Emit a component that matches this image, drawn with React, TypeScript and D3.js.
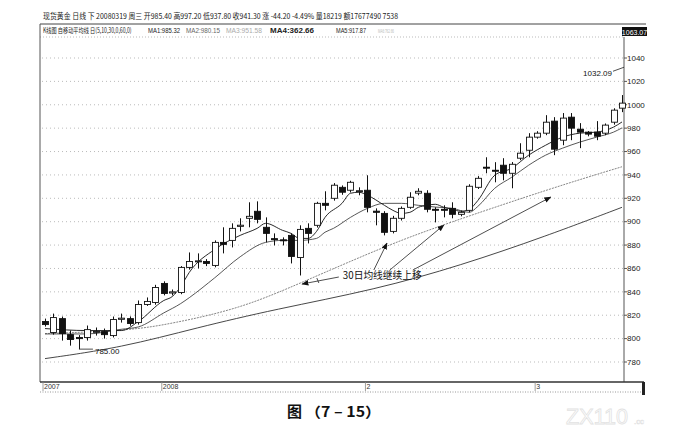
import * as d3 from "d3";
import React from "react";

const W = 685;
const H = 437;

// daily candles, 2007-12 .. 2008-03
const opens = [
  814.6, 805.2, 817.1, 803.4, 801.0, 800.9, 805.5, 806.0, 802.6, 816.5,
  817.1, 813.7, 829.2, 830.9, 847.2, 839.0, 839.4, 860.9, 866.0, 866.0,
  862.6, 882.3, 884.0, 896.0, 902.9, 908.9, 895.2, 885.5, 884.5, 888.3,
  869.4, 894.3, 896.9, 915.7, 920.0, 929.4, 926.9, 926.0, 926.9, 909.0,
  907.1, 891.7, 902.9, 912.3, 924.4, 924.3, 910.6, 910.6, 911.4, 906.3,
  909.7, 929.4, 946.6, 944.0, 948.3, 941.4, 954.3, 961.1, 972.3, 975.7,
  986.0, 969.7, 989.4, 979.1, 976.6, 976.6, 975.7, 985.1, 997.1,
];
const highs = [
  817.1, 821.4, 818.9, 806.9, 803.0, 811.2, 809.5, 808.6, 818.9, 821.4,
  819.0, 832.6, 835.2, 846.0, 849.0, 842.0, 862.0, 873.7, 872.9, 868.0,
  884.0, 895.2, 898.6, 902.9, 916.6, 917.4, 903.7, 890.0, 886.6, 890.0,
  896.9, 898.6, 917.0, 926.0, 933.0, 931.0, 935.0, 929.4, 939.7, 911.4,
  909.0, 905.0, 913.0, 925.2, 928.6, 926.9, 912.3, 914.0, 916.6, 909.5,
  932.0, 939.0, 955.1, 950.9, 954.3, 951.0, 967.1, 975.7, 977.4, 991.1,
  989.4, 992.9, 992.9, 984.3, 977.5, 986.0, 984.0, 997.0, 1008.3,
];
const lows = [
  810.3, 803.4, 798.3, 794.0, 791.0, 798.3, 802.6, 800.0, 801.0, 813.7,
  811.0, 812.0, 828.0, 829.0, 837.0, 837.0, 838.0, 859.0, 860.0, 862.0,
  861.0, 872.9, 878.0, 891.7, 895.2, 898.6, 882.3, 879.7, 879.7, 864.3,
  854.0, 881.4, 895.0, 909.7, 918.0, 923.0, 925.0, 922.6, 908.0, 896.9,
  888.3, 890.0, 901.0, 911.0, 922.6, 908.0, 899.4, 903.7, 902.9, 904.6,
  908.0, 928.0, 941.4, 933.7, 935.4, 928.6, 952.6, 955.1, 971.0, 974.0,
  956.9, 965.4, 969.7, 962.9, 973.0, 969.7, 974.0, 983.0, 993.7,
];
const closes = [
  812.0, 818.0, 804.3, 799.2, 800.0, 807.7, 806.2, 803.4, 816.3, 817.5,
  812.9, 829.2, 831.8, 843.7, 838.6, 840.0, 860.9, 866.0, 866.5, 864.3,
  882.3, 880.6, 894.3, 897.0, 904.6, 902.0, 890.0, 885.0, 884.0, 870.3,
  893.4, 890.0, 915.7, 914.0, 931.2, 925.2, 933.7, 926.5, 912.3, 908.0,
  890.9, 902.9, 911.4, 920.9, 926.0, 910.6, 910.0, 910.0, 906.3, 908.0,
  930.3, 937.1, 946.0, 943.5, 941.4, 949.1, 958.6, 972.3, 975.7, 985.1,
  962.0, 988.6, 980.0, 976.6, 974.9, 973.1, 982.6, 995.4, 1001.4,
];

// moving averages as [candle index, value]
const ma5: [number, number][] = [
  [0, 808.6], [5, 806.9], [9, 806.9], [11, 814.6], [14, 832.6], [15, 836.0],
  [16, 844.6], [17, 856.6], [20, 876.3], [23, 888.3], [25, 894.3], [26, 898.6],
  [28, 892.6], [29, 890.0], [30, 885.7], [31, 885.7], [32, 891.7], [33, 903.7],
  [35, 915.7], [36, 924.3], [37, 925.2], [38, 922.6], [40, 914.0], [41, 909.7],
  [42, 907.1], [43, 908.0], [44, 912.3], [45, 914.0], [46, 914.9], [47, 912.3],
  [48, 910.6], [49, 908.9], [50, 910.6], [51, 918.0], [53, 939.7], [55, 945.7],
  [57, 956.9], [59, 965.4], [61, 972.3], [63, 975.7], [65, 976.6], [67, 980.9],
  [68, 985.3],
];
const ma10: [number, number][] = [
  [0, 804.0], [5, 804.0], [9, 808.0], [11, 810.0], [14, 822.0], [16, 830.0],
  [17, 835.0], [20, 852.0], [23, 870.0], [26, 882.3], [28, 884.0], [30, 884.0],
  [32, 885.7], [33, 891.0], [34, 894.3], [36, 903.7], [38, 911.4], [40, 915.7],
  [42, 915.7], [44, 914.0], [46, 912.5], [48, 911.4], [50, 908.0], [51, 913.0],
  [53, 928.6], [55, 938.0], [57, 948.3], [59, 956.9], [61, 962.9], [63, 968.0],
  [65, 972.3], [67, 976.6], [68, 980.2],
];
const ma30: [number, number][] = [
  [0, 804.3], [10, 806.9], [15, 812.9], [23, 825.7], [30, 847.1], [40, 878.9],
  [47, 897.7], [60, 929.4], [68, 947.0],
];
const ma60: [number, number][] = [
  [0, 782.9], [9, 792.3], [18, 809.5], [27, 824.9], [39, 842.0], [49, 862.6],
  [59, 887.5], [68, 912.3],
];

const yTicks = [780, 800, 820, 840, 860, 880, 900, 920, 940, 960, 980, 1000, 1020, 1040];
const xTicks: [number, string][] = [[0, "2007"], [14, "2008"], [38, "2"], [58, "3"]];

const titleLine =
  "现货黄金 日线 下 20080319 周三 开985.40 高997.20 低937.80 收941.30 涨 -44.20 -4.49% 量18219 额17677490 7538";
const maPrefix = "K线图 自移动平均线 日(5,10,30,0,60,0)";
const maLabels = [
  { t: "MA1:985.32", c: "#222" },
  { t: "MA2:980.15", c: "#666" },
  { t: "MA3:951.58", c: "#aaa" },
  { t: "MA4:362.66", c: "#222" },
  { t: "MA5:917.87", c: "#222" },
  { t: "MA6:762.66", c: "#bbb" },
];

const highMark = 1032.09;
const lowMark = 785.0;
const lowIdx = 4;
const noteText = "30日均线继续上移";
const noteAt: [number, number] = [35.1, 854.4];
const arrowTargets: [number, number][] = [
  [30.3, 846.7],
  [40.3, 881.7],
  [47.0, 897.1],
  [59.6, 921.0],
];

const FONT = "'Liberation Sans', 'Noto Sans CJK SC', sans-serif";
const CJK = "'Noto Sans CJK SC', sans-serif";

export default function App() {
  const x = d3.scaleLinear().domain([0, 68]).range([45, 622]);
  const y = d3.scaleLinear().domain([780, 1040]).range([362, 58]);
  const bodyW = 6;

  const line = d3
    .line<[number, number]>()
    .x((d) => x(d[0]))
    .y((d) => y(d[1]))
    .curve(d3.curveMonotoneX);
  const smooth = d3
    .line<[number, number]>()
    .x((d) => x(d[0]))
    .y((d) => y(d[1]))
    .curve(d3.curveBasis);

  const plotL = 40;
  const axisX = 624;
  const plotTop = 37;
  const plotBottom = 382;

  const [nx, ny] = [x(noteAt[0]), y(noteAt[1])];
  const starts: [number, number][] = [
    [nx - 4, ny + 2],
    [nx + 31, ny - 5],
    [nx + 47, ny - 5],
    [nx + 70, ny - 5],
  ];

  const maX = [148, 186, 226, 270, 336, 378];
  const maLen = [32, 34, 36, 44, 30, 16];

  return (
    <svg
      width={W}
      height={H}
      style={{ position: "absolute", left: 0, top: 0, background: "#fff" }}
    >
      <defs>
        <marker
          id="ah"
          viewBox="0 0 10 10"
          refX="9"
          refY="5"
          markerWidth="7"
          markerHeight="7"
          orient="auto"
          markerUnits="userSpaceOnUse"
        >
          <path d="M0,1 L10,5 L0,9 Z" fill="#111" />
        </marker>
      </defs>
      <rect width={W} height={H} fill="#fff" />

      {/* header */}
      <text x={43} y={19} fontSize={8} fontFamily={CJK} fill="#222" textLength={355} lengthAdjust="spacingAndGlyphs">
        {titleLine}
      </text>
      <line x1={plotL} x2={646} y1={24} y2={24} stroke="#444" strokeWidth={1} />
      <g transform="translate(43,33) scale(0.74,1)">
        <text x={0} y={0} fontSize={7} fontFamily={CJK} fill="#222">
          {maPrefix}
        </text>
      </g>
      {maLabels.map((m, i) => (
        <text
          key={m.t}
          x={maX[i]}
          y={33}
          fontSize={i === 5 ? 5 : 7}
          fontWeight={i === 3 ? "bold" : "normal"}
          fontFamily={FONT}
          fill={m.c}
          textLength={maLen[i]}
          lengthAdjust="spacingAndGlyphs"
        >
          {m.t}
        </text>
      ))}
      <rect x={622} y={27} width={25} height={9} fill="#111" />
      <text x={634.5} y={34.5} fontSize={7} fontFamily={FONT} fill="#fff" textAnchor="middle">
        1063.07
      </text>

      {/* frame */}
      <line x1={plotL} x2={axisX} y1={plotTop} y2={plotTop} stroke="#bbb" strokeDasharray="1,2" />
      <line x1={plotL} x2={plotL} y1={24} y2={plotBottom} stroke="#555" />
      <line x1={axisX} x2={axisX} y1={plotTop} y2={plotBottom} stroke="#555" />

      {/* y grid + labels */}
      {yTicks.map((t) => (
        <g key={t}>
          <line x1={plotL + 2} x2={axisX} y1={y(t)} y2={y(t)} stroke="#aaa" strokeDasharray="1,3" strokeWidth={0.8} />
          <line x1={axisX} x2={axisX + 3} y1={y(t)} y2={y(t)} stroke="#555" />
          <text x={627} y={y(t)} dy="0.35em" fontSize={8} fontFamily={FONT} fill="#222">
            {t}
          </text>
        </g>
      ))}

      {/* x axis strip */}
      <line x1={plotL} x2={644} y1={plotBottom} y2={plotBottom} stroke="#333" strokeWidth={1.5} />
      <line x1={plotL} x2={644} y1={392} y2={392} stroke="#999" strokeDasharray="1,1.5" />
      <rect x={642} y={382} width={3} height={13} fill="#222" />
      {xTicks.map(([i, s]) => (
        <g key={s}>
          <line x1={x(i) - 2} x2={x(i) - 2} y1={plotBottom} y2={391} stroke="#888" strokeWidth={0.8} />
          <text x={x(i) - 1} y={389} fontSize={7} fontFamily={FONT} fill="#333">
            {s}
          </text>
        </g>
      ))}

      {/* moving averages */}
      <path d={smooth(ma60) || ""} fill="none" stroke="#333" strokeWidth={0.9} />
      <path d={smooth(ma30) || ""} fill="none" stroke="#777" strokeWidth={0.9} strokeDasharray="2,1" />
      <path d={line(ma10) || ""} fill="none" stroke="#444" strokeWidth={0.9} />
      <path d={line(ma5) || ""} fill="none" stroke="#111" strokeWidth={0.9} />

      {/* candles */}
      {opens.map((o, i) => {
        const c = closes[i];
        const up = c >= o;
        const top = y(Math.max(o, c));
        const h = Math.max(1, Math.abs(y(o) - y(c)));
        const cx = Math.round(x(i)) + 0.5;
        return (
          <g key={i}>
            <line x1={cx} x2={cx} y1={y(highs[i])} y2={y(lows[i])} stroke="#111" strokeWidth={1} />
            <rect
              x={cx - bodyW / 2}
              y={top}
              width={bodyW}
              height={h}
              fill={up ? "#fff" : "#111"}
              stroke="#111"
              strokeWidth={0.9}
            />
          </g>
        );
      })}

      {/* high / low markers */}
      <line x1={613} y1={y(highMark) + 4} x2={axisX} y2={y(highMark)} stroke="#222" strokeWidth={0.8} />
      <text x={612} y={y(highMark) + 6} dy="0.35em" fontSize={8} fontFamily={FONT} fill="#111" textAnchor="end">
        {highMark.toFixed(2)}
      </text>
      <line
        x1={x(lowIdx)}
        y1={y(lows[lowIdx])}
        x2={x(lowIdx) + 14}
        y2={y(lows[lowIdx])}
        stroke="#222"
        strokeWidth={0.8}
      />
      <text x={x(lowIdx) + 16} y={y(lows[lowIdx]) + 2} dy="0.35em" fontSize={8} fontFamily={FONT} fill="#111">
        {lowMark.toFixed(2)}
      </text>

      {/* annotation */}
      <text x={nx} y={ny} dy="0.35em" fontSize={10} fontFamily={CJK} fill="#111" textLength={79} lengthAdjust="spacingAndGlyphs">
        {noteText}
      </text>
      {arrowTargets.map((t, i) => (
        <line
          key={i}
          x1={starts[i][0]}
          y1={starts[i][1]}
          x2={x(t[0])}
          y2={y(t[1])}
          stroke="#222"
          strokeWidth={0.8}
          markerEnd="url(#ah)"
        />
      ))}
      <line x1={nx - 26} y1={ny + 3} x2={nx - 24} y2={ny + 8} stroke="#222" strokeWidth={0.8} />

      {/* caption */}
      <text x={287} y={417} fontSize={15} fontFamily={CJK} fontWeight="bold" fill="#111">
        图
      </text>
      <text x={305} y={417} fontSize={14} fontFamily={CJK} fontWeight="bold" fill="#111" textLength={76} lengthAdjust="spacingAndGlyphs">
        （7 – 15）
      </text>

      {/* watermark */}
      <text x={566} y={424} fontSize={22} fontFamily={FONT} fill="none" stroke="#e2e2e2" strokeWidth={0.8} textLength={62} lengthAdjust="spacingAndGlyphs">
        ZX110
      </text>
      <text x={634} y={424} fontSize={8} fontFamily={FONT} fill="none" stroke="#e2e2e2" strokeWidth={0.6} textLength={10} lengthAdjust="spacingAndGlyphs">
        .cc
      </text>
    </svg>
  );
}
